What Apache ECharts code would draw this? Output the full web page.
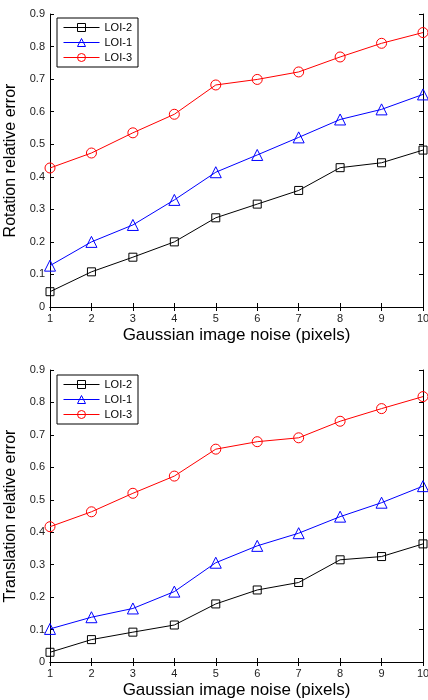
<!DOCTYPE html>
<html><head><meta charset="utf-8">
<script src="https://cdn.jsdelivr.net/npm/echarts@6/dist/echarts.min.js"></script>
<style>html,body{margin:0;padding:0;background:#fff}#c{width:428px;height:700px}</style>
</head><body><div id="c"></div>
<script>
const noise = [1,2,3,4,5,6,7,8,9,10];
const yTicks = [0,0.1,0.2,0.3,0.4,0.5,0.6,0.7,0.8,0.9];
const seriesNames = ['LOI-2','LOI-1','LOI-3'];
const rotLOI2 = [0.047,0.108,0.153,0.200,0.274,0.316,0.358,0.428,0.443,0.482];
const rotLOI1 = [0.127,0.200,0.252,0.329,0.414,0.467,0.521,0.576,0.607,0.653];
const rotLOI3 = [0.427,0.473,0.535,0.592,0.682,0.699,0.722,0.768,0.810,0.843];
const trLOI2 = [0.030,0.069,0.092,0.114,0.179,0.222,0.245,0.315,0.325,0.364];
const trLOI1 = [0.102,0.138,0.165,0.217,0.306,0.358,0.397,0.448,0.491,0.542];
const trLOI3 = [0.417,0.463,0.520,0.573,0.656,0.679,0.691,0.742,0.781,0.818];

const colors = ['#000000','#0000ff','#ff0000'];
const symbols = ['rect','triangle','circle'];
const symSizes = [8,11,10];
const font = 'Liberation Sans, Arial, Helvetica, sans-serif';

const chart = echarts.init(document.getElementById('c'), null, {renderer:'canvas'});
const grids = [
  {left:50, right:5, top:14, height:293, outerBoundsMode:'none', containLabel:false},
  {left:50, right:5, top:370, height:292, outerBoundsMode:'none', containLabel:false}
];
const yNames = ['Rotation relative error','Translation relative error'];
const xAxes = [], yAxes = [], series = [];
const dataSets = [[rotLOI2,rotLOI1,rotLOI3],[trLOI2,trLOI1,trLOI3]];
grids.forEach((g,gi)=>{
  xAxes.push({gridIndex:gi,type:'value',min:noise[0],max:noise[noise.length-1],interval:1,
    name:'Gaussian image noise (pixels)',nameLocation:'middle',nameGap:20,
    nameTextStyle:{fontFamily:font,fontSize:17,color:'#000'},
    axisLine:{lineStyle:{color:'#000',width:1}},
    axisTick:{inside:true,length:4,lineStyle:{color:'#000'}},
    axisLabel:{fontFamily:font,fontSize:11,color:'#222',margin:6,hideOverlap:false},
    splitLine:{show:false}});
  xAxes.push({gridIndex:gi,type:'value',position:'top',min:noise[0],max:noise[noise.length-1],interval:1,
    axisLine:{lineStyle:{color:'#000',width:1}},
    axisTick:{inside:true,length:4,lineStyle:{color:'#000'}},
    axisLabel:{show:false},splitLine:{show:false}});
  yAxes.push({gridIndex:gi,type:'value',min:yTicks[0],max:yTicks[yTicks.length-1],interval:0.1,
    name:yNames[gi],nameLocation:'middle',nameGap:26,
    nameTextStyle:{fontFamily:font,fontSize:16,color:'#000'},
    axisLine:{show:true,lineStyle:{color:'#000',width:1}},
    axisTick:{show:true,inside:true,length:4,lineStyle:{color:'#000'}},
    axisLabel:{fontFamily:font,fontSize:11,color:'#222',margin:5,
      formatter:v=>v===0?'0':v.toFixed(1)},
    splitLine:{show:false}});
  yAxes.push({gridIndex:gi,type:'value',position:'right',min:yTicks[0],max:yTicks[yTicks.length-1],interval:0.1,
    axisLine:{show:true,lineStyle:{color:'#000',width:1}},
    axisTick:{show:true,inside:true,length:4,lineStyle:{color:'#000'}},
    axisLabel:{show:false},splitLine:{show:false}});
  dataSets[gi].forEach((arr,si)=>{
    series.push({name:seriesNames[si],type:'line',xAxisIndex:gi*2,yAxisIndex:gi*2,
      data:noise.map((x,i)=>[x,arr[i]]),
      symbol:symbols[si],symbolSize:symSizes[si],
      lineStyle:{color:colors[si],width:1},
      itemStyle:{color:'rgba(255,255,255,0)',borderColor:colors[si],borderWidth:1},
      animation:false});
  });
});
const legendBase = {orient:'vertical',left:57,backgroundColor:'#fff',borderColor:'#000',borderWidth:1,
  padding:[4,6,4,6],itemGap:4,itemWidth:36,itemHeight:10,
  textStyle:{fontFamily:font,fontSize:11,color:'#000'}};
const legendData = seriesNames.map((n,i)=>({name:n,
  itemStyle:{color:'rgba(255,255,255,0)',borderColor:colors[i],borderWidth:1},
  lineStyle:{color:colors[i],width:1}}));
chart.setOption({
  backgroundColor:'#fff',
  animation:false,
  grid:grids,
  xAxis:xAxes,yAxis:yAxes,
  legend:[Object.assign({top:18,data:legendData},legendBase),Object.assign({top:375,data:legendData},legendBase)],
  series:series
});
</script></body></html>
